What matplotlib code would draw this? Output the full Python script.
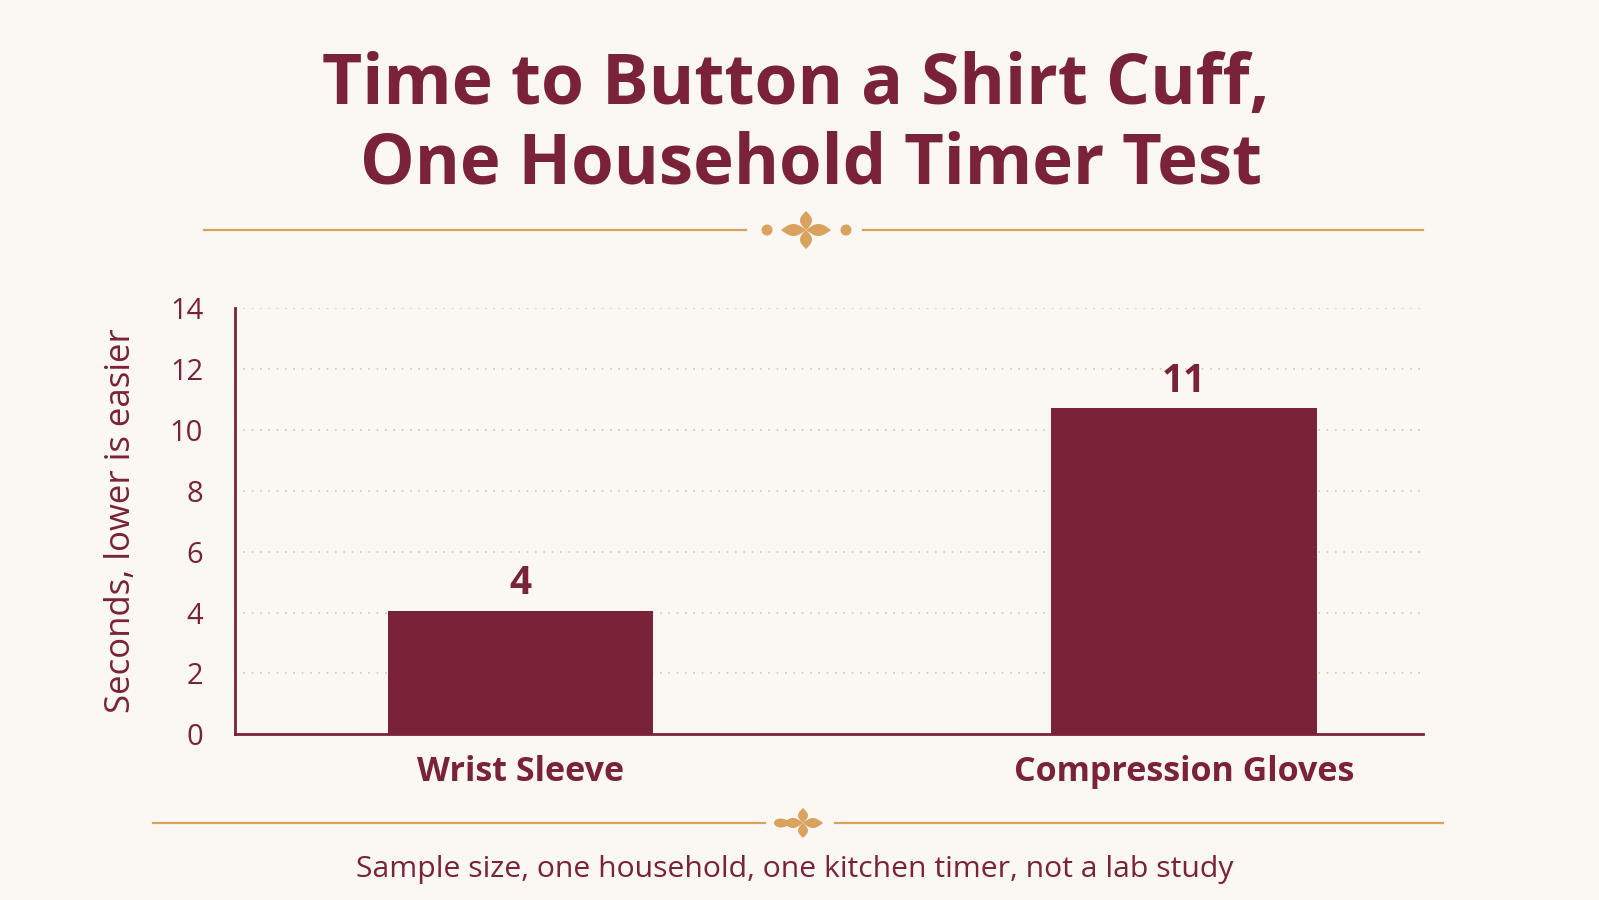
import numpy as np
import matplotlib.pyplot as plt
from matplotlib.patches import Polygon, Ellipse

# chart data
categories = ["Wrist Sleeve", "Compression Gloves"]
seconds = [4.05, 10.7]
bar_labels = ["4", "11"]
yticks = [0, 2, 4, 6, 8, 10, 12, 14]

maroon = "#7A2237"
gold = "#D9A25E"
bg = "#FBF7F2"

plt.rcParams['font.family'] = ['Open Sans', 'DejaVu Sans']

fig = plt.figure(figsize=(15.99, 9), dpi=100, facecolor=bg)

# overlay in pixel coords for dividers and ornaments
deco = fig.add_axes([0, 0, 1, 1], zorder=0)
deco.set_xlim(0, 1599)
deco.set_ylim(900, 0)
deco.axis("off")
deco.patch.set_alpha(0)


def petal(cx, cy, length, width, angle):
    # pointed leaf shape from centre outward
    t = np.linspace(0, 1, 40)
    xs = np.concatenate([t, t[::-1]]) * length
    ys = np.concatenate([np.sin(np.pi * t), -np.sin(np.pi * t[::-1])]) * width / 2
    a = np.deg2rad(angle)
    px = cx + xs * np.cos(a) - ys * np.sin(a)
    py = cy + xs * np.sin(a) + ys * np.cos(a)
    return Polygon(np.column_stack([px, py]), closed=True, color=gold, lw=0)


def flower(cx, cy, hlen, vlen, w):
    for ang, ln in [(0, hlen), (180, hlen), (90, vlen), (270, vlen)]:
        deco.add_patch(petal(cx, cy, ln, w, ang))


# top divider
deco.plot([204, 746], [230, 230], color=gold, lw=1.6)
deco.plot([863, 1423], [230, 230], color=gold, lw=1.6)
flower(806, 230, 25, 19, 12)
deco.add_patch(Ellipse((767, 230), 11, 11, color=gold, lw=0))
deco.add_patch(Ellipse((846, 230), 11, 11, color=gold, lw=0))

# bottom divider
deco.plot([153, 765], [823, 823], color=gold, lw=1.6)
deco.plot([835, 1443], [823, 823], color=gold, lw=1.6)
flower(803, 823, 20, 15, 10)
deco.add_patch(Ellipse((781, 823), 14, 9, color=gold, lw=0))

# title and footer
fig.text(0.498, 1 - 86 / 900, "Time to Button a Shirt Cuff,", ha="center", va="center",
         fontsize=50, fontweight="bold", color=maroon)
fig.text(0.507, 1 - 166 / 900, "One Household Timer Test", ha="center", va="center",
         fontsize=49.5, fontweight="bold", color=maroon)
fig.text(0.497, 1 - 870 / 900, "Sample size, one household, one kitchen timer, not a lab study",
         ha="center", va="center", fontsize=21.7, color=maroon)

# main chart
ax = fig.add_axes([0.147, 0.184, 0.743, 0.474], zorder=1)
ax.set_facecolor("none")
x = np.arange(len(categories))
bars = ax.bar(x, seconds, width=0.4, color=maroon, zorder=3)

for b, lab in zip(bars, bar_labels):
    ax.text(b.get_x() + b.get_width() / 2, b.get_height() + 0.25, lab,
            ha="center", va="bottom", fontsize=28, fontweight="bold", color=maroon)

ax.set_xlim(-0.43, 1.36)
ax.set_ylim(0, 14)
ax.set_yticks(yticks)
ax.set_xticks(x)
ax.set_xticklabels(categories, fontsize=24.5, fontweight="bold", color=maroon)
ax.tick_params(axis="y", labelsize=21, labelcolor=maroon, length=0, pad=23)
ax.tick_params(axis="x", length=0, pad=15)
ax.grid(axis="y", linestyle=(0, (1, 4)), color="#D8C9A8", lw=1.2, zorder=0)
ax.set_ylabel("Seconds, lower is easier", fontsize=25, color=maroon)
ax.yaxis.set_label_coords(-0.082, 0.5)

for s in ["top", "right"]:
    ax.spines[s].set_visible(False)
ax.spines["left"].set_color(maroon)
ax.spines["bottom"].set_color(maroon)
ax.spines["left"].set_linewidth(2)
ax.spines["bottom"].set_linewidth(2)

fig.savefig("out.png", dpi=100, facecolor=bg)
